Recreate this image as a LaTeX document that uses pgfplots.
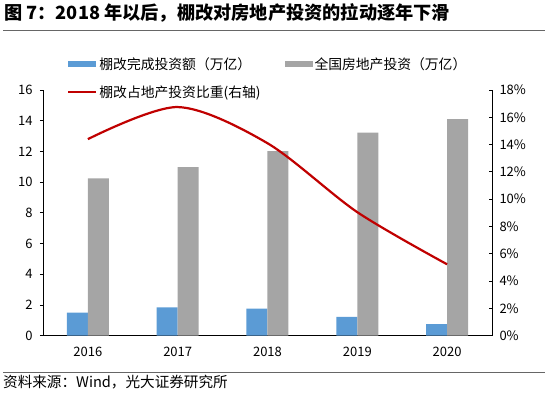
\documentclass[border=0pt]{standalone}
\usepackage{fontspec}
\setmainfont{Noto Sans CJK SC}
\usepackage{pgfplots}
\pgfplotsset{compat=1.18}
\definecolor{cblue}{HTML}{5B9BD5}
\definecolor{cgray}{HTML}{A5A5A5}
\definecolor{cred}{HTML}{C00000}
\begin{document}
\begin{tikzpicture}[x=1pt,y=1pt]
\useasboundingbox (0,0) rectangle (550,393);
\node[anchor=west,font=\fontsize{18.2}{20}\selectfont\bfseries,inner sep=0pt] at (4,380) {图 7：2018 年以后，棚改对房地产投资的拉动逐年下滑};
\draw[line width=0.8pt,color=black!60] (3,363) -- (545,363);
\draw[line width=0.8pt,color=black!60] (3,20.7) -- (545,20.7);
\node[anchor=west,font=\fontsize{14.6}{16}\selectfont,inner sep=0pt] at (3,11) {资料来源：Wind，光大证券研究所};
\begin{axis}[
  at={(43pt,57.3pt)}, anchor=south west, scale only axis,
  width=449pt, height=245.7pt,
  xmin=-0.5, xmax=4.5, ymin=0, ymax=16,
  ytick={0,2,...,16},
  xtick={0,...,4}, xticklabels={2016,2017,2018,2019,2020},
  major x tick style={draw=none},
  extra x ticks={0.5,1.5,2.5,3.5}, extra x tick labels={},
  extra x tick style={tick align=inside, major tick length=4pt},
  axis x line*=bottom, axis y line*=left,
  axis line style={-, line width=0.8pt, black},
  tick style={line width=0.8pt, black},
  tick align=outside, major tick length=3pt,
  ticklabel style={font=\fontsize{13}{15}\selectfont},
  /pgf/number format/assume math mode=true,
  xticklabel style={yshift=-5pt},
  yticklabel style={xshift=-4pt},
  legend columns=2,
  legend cell align=left,
  legend style={draw=none, fill=none, inner sep=0pt,
    at={(axis description cs:0.0535,1.14)}, anchor=north west,
    font=\fontsize{13.8}{16}\selectfont,
    /tikz/every even column/.append style={column sep=22pt},
    row sep=10.5pt},
]
\addplot[ybar, bar width=21pt, bar shift=-10.5pt, fill=cblue, draw=none,
  legend image code/.code={\fill[cblue] (0pt,-3pt) rectangle (28pt,3pt);}]
  coordinates {(0,1.50) (1,1.85) (2,1.76) (3,1.22) (4,0.76)};
\addlegendentry{棚改完成投资额（万亿）}
\addplot[ybar, bar width=21pt, bar shift=10.5pt, fill=cgray, draw=none,
  legend image code/.code={\fill[cgray] (0pt,-3pt) rectangle (28pt,3pt);}]
  coordinates {(0,10.25) (1,10.98) (2,12.02) (3,13.22) (4,14.11)};
\addlegendentry{全国房地产投资（万亿）}
\addlegendimage{legend image code/.code={\draw[cred, line width=2.2pt] (0pt,0pt) -- (28pt,0pt);}}
\addlegendentry{棚改占地产投资比重(右轴)}
\end{axis}
\begin{axis}[
  at={(43pt,57.3pt)}, anchor=south west, scale only axis,
  width=449pt, height=245.7pt,
  xmin=-0.5, xmax=4.5, ymin=0, ymax=18,
  ytick={0,2,...,18},
  yticklabel={\pgfmathprintnumber{\tick}\%},
  axis y line*=right, axis x line=none,
  axis line style={-, line width=0.8pt, black},
  tick style={line width=0.8pt, black},
  tick align=inside, major tick length=3pt,
  ticklabel style={font=\fontsize{13}{15}\selectfont},
  /pgf/number format/assume math mode=true,
  yticklabel style={xshift=4pt},
]
\addplot[cred, line width=2.2pt, smooth, tension=0.5]
  coordinates {(0,14.4) (1,16.75) (2,14.1) (3,9.05) (4,5.23)};
\end{axis}
\end{tikzpicture}
\end{document}
